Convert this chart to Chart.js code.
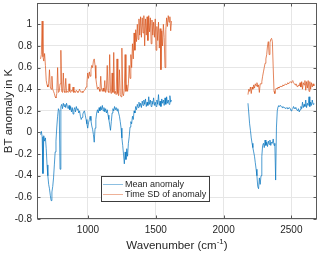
<!DOCTYPE html>
<html><head><meta charset="utf-8">
<style>html,body{margin:0;padding:0;background:#fff}canvas{display:block}</style>
<script src="https://cdn.jsdelivr.net/npm/chart.js@4"></script>
</head><body>
<canvas id="c" width="320" height="255"></canvas>
<script>
const wavenumbers = [
650,656,662,668,674,680,686,692,698,704,
710,716,722,728,734,740,746,752,758,764,
770,776,782,788,794,800,806,812,818,824,
830,836,842,848,854,860,866,872,878,884,
890,896,902,908,914,920,926,932,938,944,
950,956,962,968,974,980,986,992,998,1004,
1010,1016,1022,1028,1034,1040,1046,1052,1058,1064,
1070,1076,1082,1088,1094,1100,1106,1112,1118,1124,
1130,1136,1142,1148,1154,1160,1166,1172,1178,1184,
1190,1196,1202,1208,1214,1220,1226,1232,1238,1244,
1250,1256,1262,1268,1274,1280,1286,1292,1298,1304,
1310,1316,1322,1328,1334,1340,1346,1352,1358,1364,
1370,1376,1382,1388,1394,1400,1406,1412,1418,1424,
1430,1436,1442,1448,1454,1460,1466,1472,1478,1484,
1490,1496,1502,1508,1514,1520,1526,1532,1538,1544,
1550,1556,1562,1568,1574,1580,1586,1592,1598,1604,
1610,1616,
1900,
2180,2186,2192,2198,2204,2210,2216,2222,2228,2234,
2240,2246,2252,2258,2264,2270,2276,2282,2288,2294,
2300,2306,2312,2318,2324,2330,2336,2342,2348,2354,
2360,2366,2372,2378,2384,2390,2396,2402,2408,2414,
2420,2426,2432,2438,2444,2450,2456,2462,2468,2474,
2480,2486,2492,2498,2504,2510,2516,2522,2528,2534,
2540,2546,2552,2558,2564,2570,2576,2582,2588,2594,
2600,2606,2612,2618,2624,2630,2636,2642,2648,2654,
2660,2666
];

const meanAnomaly = [
-0.02,0.01,-0.04,-0.38,-0.03,-0.08,-0.05,-0.15,-0.30,-0.40,
-0.48,-0.52,-0.58,-0.63,-0.55,-0.50,-0.42,-0.30,-0.18,-0.08,
0.05,0.15,0.22,0.20,-0.34,0.24,0.26,0.22,0.27,0.24,
0.26,0.23,0.27,0.24,0.22,0.25,0.21,0.24,0.19,0.23,
0.17,0.21,0.23,0.19,0.24,0.21,0.22,0.18,0.20,0.15,
0.12,0.14,0.17,0.19,0.20,0.16,0.12,0.08,0.04,0.09,
0.12,0.15,0.11,0.06,0.03,-0.02,-0.09,0.04,0.12,0.18,
0.21,0.18,0.23,0.20,0.24,0.21,0.25,0.20,0.23,0.19,
0.22,0.18,0.21,0.16,0.12,0.07,0.02,0.10,0.18,0.22,
0.20,0.24,0.21,0.23,0.20,0.22,0.18,0.15,0.10,0.04,
-0.05,-0.12,-0.20,-0.29,-0.18,-0.25,-0.15,-0.22,-0.10,-0.04,
0.05,0.10,0.08,0.15,0.12,0.20,0.18,0.24,0.21,0.26,
0.23,0.28,0.24,0.27,0.23,0.29,0.25,0.30,0.26,0.31,
0.24,0.28,0.25,0.33,0.26,0.30,0.24,0.29,0.26,0.32,
0.25,0.28,0.24,0.30,0.26,0.35,0.25,0.29,0.24,0.31,
0.27,0.30,0.25,0.32,0.26,0.33,0.27,0.30,0.26,0.34,
0.28,0.30,
null,
0.27,0.18,0.08,0.02,-0.05,-0.10,-0.14,-0.18,-0.22,-0.28,
-0.34,-0.40,-0.50,-0.52,-0.42,-0.48,-0.40,-0.22,-0.12,-0.10,
-0.14,-0.07,-0.12,-0.09,-0.13,-0.08,-0.11,-0.07,-0.12,-0.09,
-0.10,-0.06,-0.12,-0.10,-0.44,0.05,0.20,0.24,0.25,0.24,
0.25,0.24,0.23,0.24,0.23,0.23,0.22,0.23,0.22,0.23,
0.22,0.23,0.22,0.20,0.21,0.22,0.24,0.22,0.23,0.22,
0.21,0.20,0.22,0.19,0.21,0.24,0.22,0.28,0.23,0.26,
0.24,0.30,0.23,0.27,0.25,0.33,0.24,0.28,0.25,0.30,
0.26,0.27
];

const sdAnomaly = [
0.68,0.72,1.03,0.70,0.66,0.73,0.62,0.48,0.44,0.42,
0.45,0.58,0.42,0.40,0.52,0.40,0.38,0.36,0.33,0.32,
0.36,0.60,0.37,0.38,0.45,0.76,0.38,0.37,0.55,0.38,
0.37,0.50,0.37,0.38,0.37,0.45,0.38,0.37,0.39,0.38,
0.42,0.37,0.38,0.37,0.39,0.38,0.37,0.38,0.40,0.38,
0.37,0.38,0.37,0.38,0.39,0.40,0.42,0.46,0.55,0.50,
0.56,0.52,0.58,0.62,0.60,0.66,0.68,0.62,0.50,0.44,
0.40,0.42,0.40,0.38,0.52,0.40,0.38,0.41,0.38,0.48,
0.37,0.40,0.62,0.38,0.37,0.72,0.38,0.36,0.55,0.37,
0.74,0.36,0.38,0.35,0.68,0.36,0.34,0.58,0.35,0.33,
0.78,0.36,0.34,0.40,0.72,0.38,0.44,0.38,0.45,0.62,
0.50,0.72,0.60,0.82,0.68,0.92,0.76,0.95,0.84,1.00,
0.86,1.05,0.90,1.07,0.88,1.06,0.92,1.08,0.80,1.05,
0.90,1.07,0.85,1.08,0.93,1.06,0.82,1.04,0.90,1.02,
0.88,1.05,0.76,0.98,0.85,1.02,0.78,0.96,0.58,0.94,
0.80,1.00,0.88,0.60,0.95,1.06,0.98,1.08,1.02,1.07,
0.94,1.03,
null,
0.35,0.40,0.38,0.42,0.36,0.42,0.40,0.44,0.41,0.45,
0.43,0.46,0.42,0.44,0.37,0.45,0.45,0.47,0.52,0.56,
0.60,0.64,0.68,0.72,0.80,0.84,0.72,0.83,0.86,0.87,
0.84,0.60,0.38,0.36,0.40,0.41,0.40,0.42,0.41,0.42,
0.43,0.42,0.43,0.44,0.43,0.44,0.45,0.44,0.45,0.46,
0.45,0.46,0.47,0.46,0.47,0.48,0.46,0.45,0.44,0.45,
0.43,0.42,0.44,0.43,0.46,0.42,0.47,0.40,0.46,0.44,
0.48,0.39,0.47,0.41,0.48,0.38,0.47,0.40,0.46,0.42,
0.45,0.43
];

const seriesNames = ['Mean anomaly', 'Time SD of anomaly'];
const xTicks = [1000, 1500, 2000, 2500];
const yTicks = [-0.8, -0.6, -0.4, -0.2, 0, 0.2, 0.4, 0.6, 0.8, 1];
const xRange = [624, 2689];
const yRange = [-0.8, 1.197];

const FONT = '"Liberation Sans", Arial, Helvetica, sans-serif';
const TXT = '#262626';
const BLUE = 'rgba(0,114,189,0.7)';
const ORANGE = 'rgba(217,83,25,0.7)';

function toPoints(vals) { return vals.map((v, i) => ({ x: wavenumbers[i], y: v })); }
function noPad(s) { s.paddingTop = 0; s.paddingBottom = 0; s.paddingLeft = 0; s.paddingRight = 0; }

const decor = {
  id: 'decor',
  afterDraw(chart) {
    const ctx = chart.ctx;
    const { left, right, top, bottom } = chart.chartArea;
    const xs = chart.scales.x, ys = chart.scales.y;
    ctx.save();
    ctx.strokeStyle = '#5a5a5a';
    ctx.lineWidth = 1;
    const L = Math.round(left) + 0.5, R = Math.round(right) - 0.5, T = Math.round(top) + 0.5, B = Math.round(bottom) - 0.5;
    ctx.strokeRect(L, T, R - L, B - T);
    ctx.beginPath();
    xTicks.forEach(v => {
      const p = Math.round(xs.getPixelForValue(v)) + 0.5;
      ctx.moveTo(p, B); ctx.lineTo(p, B - 3);
      ctx.moveTo(p, T); ctx.lineTo(p, T + 3);
    });
    yTicks.forEach(v => {
      const p = Math.round(ys.getPixelForValue(v)) + 0.5;
      ctx.moveTo(L, p); ctx.lineTo(L + 3, p);
      ctx.moveTo(R, p); ctx.lineTo(R - 3, p);
    });
    ctx.stroke();

    // legend
    const lx = 101.5, ly = 176.5, lw = 108, lh = 25;
    ctx.fillStyle = '#fff';
    ctx.fillRect(lx, ly, lw, lh);
    ctx.strokeStyle = '#3c3c3c';
    ctx.strokeRect(lx, ly, lw, lh);
    const cols = ['rgba(0,114,189,0.45)', 'rgba(217,83,25,0.45)'];
    const rows = [184.5, 194.5];
    ctx.font = '9px ' + FONT;
    ctx.textBaseline = 'middle';
    ctx.textAlign = 'left';
    seriesNames.forEach((n, i) => {
      ctx.strokeStyle = cols[i];
      ctx.beginPath(); ctx.moveTo(103, rows[i]); ctx.lineTo(123, rows[i]); ctx.stroke();
      ctx.fillStyle = TXT;
      ctx.fillText(n, 125, rows[i]);
    });

    // x title with superscript
    ctx.fillStyle = TXT;
    ctx.textBaseline = 'alphabetic';
    const big = '11.5px ' + FONT, small = '8px ' + FONT;
    const p1 = 'Wavenumber (cm', p2 = '-1', p3 = ')';
    ctx.font = big; const w1 = ctx.measureText(p1).width, w3 = ctx.measureText(p3).width;
    ctx.font = small; const w2 = ctx.measureText(p2).width;
    let x0 = (left + right) / 2 - (w1 + w2 + w3) / 2;
    const by = 249;
    ctx.font = big; ctx.fillText(p1, x0, by);
    ctx.font = small; ctx.fillText(p2, x0 + w1, by - 5);
    ctx.font = big; ctx.fillText(p3, x0 + w1 + w2, by);

    // y title
    ctx.save();
    ctx.translate(12, (top + bottom) / 2);
    ctx.rotate(-Math.PI / 2);
    ctx.textAlign = 'center';
    ctx.font = big;
    ctx.fillText('BT anomaly in K', 0, 0);
    ctx.restore();
    ctx.restore();
  }
};

new Chart(document.getElementById('c'), {
  type: 'line',
  data: {
    datasets: [
      { label: seriesNames[0], data: toPoints(meanAnomaly), borderColor: BLUE, borderWidth: 1, pointRadius: 0, tension: 0, spanGaps: false, fill: false },
      { label: seriesNames[1], data: toPoints(sdAnomaly), borderColor: ORANGE, borderWidth: 1, pointRadius: 0, tension: 0, spanGaps: false, fill: false }
    ]
  },
  options: {
    responsive: false,
    animation: false,
    devicePixelRatio: 1,
    layout: { padding: { top: 3, right: 3, left: 0, bottom: 0 } },
    plugins: { legend: { display: false }, tooltip: { enabled: false } },
    scales: {
      x: {
        type: 'linear', min: xRange[0], max: xRange[1],
        afterBuildTicks: s => { s.ticks = xTicks.map(v => ({ value: v })); },
        afterFit: s => { s.height = 36; noPad(s); },
        grid: { color: '#e6e6e6', drawTicks: false },
        border: { display: false },
        ticks: { padding: 5, color: TXT, font: { family: FONT, size: 10 }, maxRotation: 0, autoSkip: false, callback: v => String(v) }
      },
      y: {
        type: 'linear', min: yRange[0], max: yRange[1],
        afterBuildTicks: s => { s.ticks = yTicks.map(v => ({ value: v })); },
        afterFit: s => { s.width = 37; noPad(s); },
        grid: { color: '#e6e6e6', drawTicks: false },
        border: { display: false },
        ticks: { padding: 5, color: TXT, font: { family: FONT, size: 10 }, autoSkip: false, callback: v => String(Math.round(v * 10) / 10) }
      }
    }
  },
  plugins: [decor]
});
</script>
</body></html>
